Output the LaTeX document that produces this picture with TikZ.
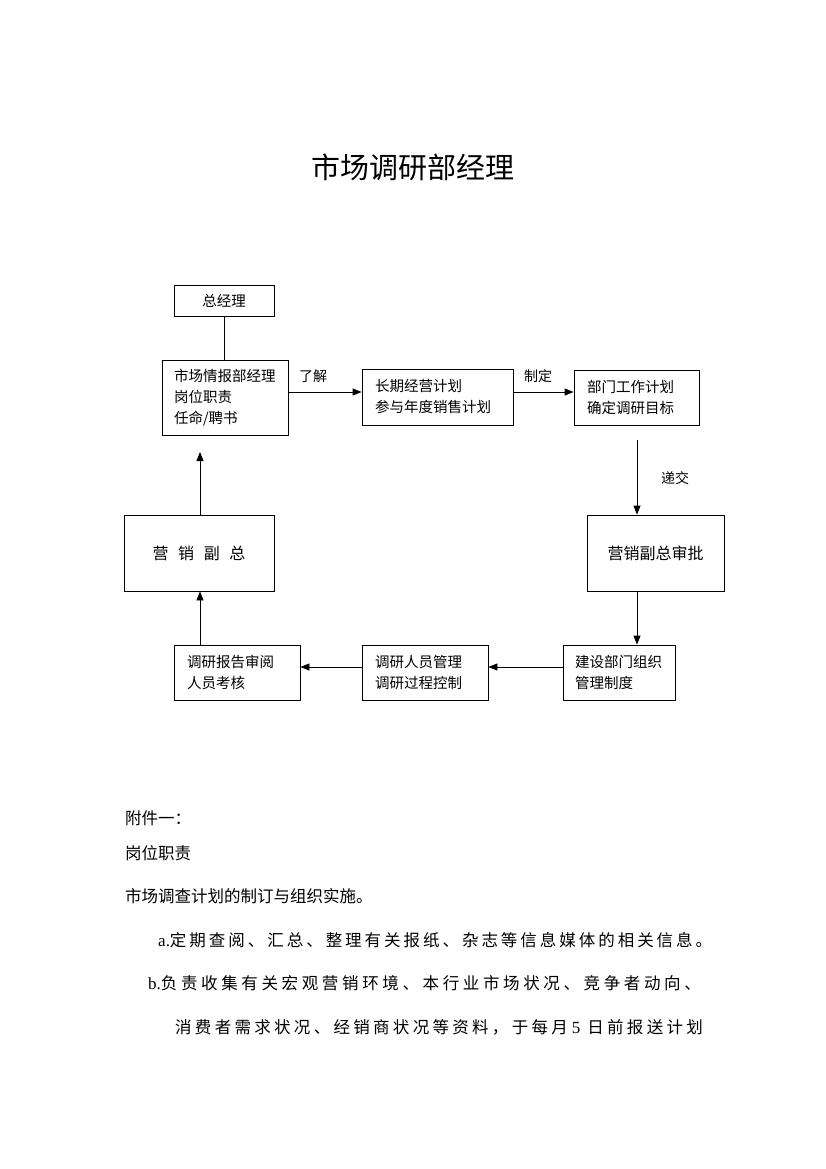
\documentclass[tikz,border=0pt]{standalone}
\usepackage{fontspec}
\setmainfont{Liberation Serif}
\newfontfamily\cjk{Noto Sans CJK SC}
\newfontfamily\cjkw[LetterSpace=18]{Noto Sans CJK SC}
\newfontfamily\cjkb[LetterSpace=22]{Noto Sans CJK SC}
\newfontfamily\cjkc[LetterSpace=20]{Noto Sans CJK SC}
\usetikzlibrary{arrows.meta,calc}
\tikzset{
  box/.style={draw, line width=0.8pt, inner ysep=0pt, align=left, font=\cjk\fontsize{14.5}{21}\selectfont},
  cbox/.style={draw, line width=0.8pt, inner sep=0pt, align=center},
  arr/.style={line width=0.8pt, -{Triangle[length=9pt,width=7pt]}},
  lab/.style={font=\cjk\fontsize{14}{16}\selectfont, inner sep=0pt},
  body/.style={anchor=west, inner sep=0pt, font=\cjk\fontsize{16.5}{18}\selectfont},
}
\begin{document}
\begin{tikzpicture}[x=1pt,y=-1pt]
\useasboundingbox (0,0) rectangle (826,1169);
\fill[white] (0,0) rectangle (826,1169);

\node[inner sep=0pt, font=\cjk\fontsize{29}{32}\selectfont] (title) at (413,167) {市场调研部经理};

\node[cbox, minimum width=100pt, minimum height=31pt, font=\cjk\fontsize{14.5}{17}\selectfont] (zjl) at (224,300.5) {总经理};
\node[box, inner xsep=12pt, text width=102pt, minimum height=75pt] (sc) at (225,397.5) {市场情报部经理\\岗位职责\\任命/聘书};
\node[box, inner xsep=13pt, text width=125pt, minimum height=56pt] (cq) at (437.5,397) {长期经营计划\\参与年度销售计划};
\node[box, inner xsep=13pt, text width=99pt, minimum height=55pt] (bm) at (636.5,397.5) {部门工作计划\\确定调研目标};
\node[cbox, minimum width=137pt, minimum height=76pt, font=\cjk\fontsize{16}{18}\selectfont] (yxsp) at (655.5,553) {营销副总审批};
\node[box, inner xsep=12pt, text width=88pt, minimum height=55pt] (js) at (619,672.5) {建设部门组织\\管理制度};
\node[box, inner xsep=13pt, text width=100pt, minimum height=55pt] (ry) at (425,672.5) {调研人员管理\\调研过程控制};
\node[box, inner xsep=13pt, text width=100pt, minimum height=55pt] (bg) at (237,672.5) {调研报告审阅\\人员考核};
\node[cbox, minimum width=150pt, minimum height=76pt, font=\cjk\fontsize{16}{18}\selectfont] (yxfz) at (199,553) {营\hspace{0.6em}销\hspace{0.6em}副\hspace{0.6em}总};

\coordinate (d0) at (637,440);
\coordinate (u0) at (200,452);

\draw[line width=0.8pt] (zjl.south -| 224,0) -- (sc.north -| 224,0);
\draw[arr] ($(sc.east)+(0,-5.5)$) -- ($(cq.west)+(0,-5)$);
\draw[arr] ($(cq.east)+(0,-5)$) -- ($(bm.west)+(0,-5.5)$);
\draw[arr] (d0) -- (yxsp.north -| d0);
\draw[arr] (yxsp.south -| d0) -- (js.north -| d0);
\draw[arr] ($(js.west)+(0,-5.5)$) -- ($(ry.east)+(0,-5.5)$);
\draw[arr] ($(ry.west)+(0,-5.5)$) -- ($(bg.east)+(0,-5.5)$);
\draw[arr] (bg.north -| u0) -- (yxfz.south -| u0);
\draw[arr] (yxfz.north -| u0) -- (u0);

\node[lab] (l1) at (313,376) {了解};
\node[lab] (l2) at (538,376) {制定};
\node[lab] (l3) at (675,478) {递交};

\node[body] (t1) at (125,818) {附件一：};
\node[body] (t2) at (125,853) {岗位职责};
\node[body] (t3) at (125,896) {市场调查计划的制订与组织实施。};
\node[body] (t4) at (158,940) {{\fontsize{17}{18}\rmfamily a.}{\cjkw 定期查阅、汇总、整理有关报纸、杂志等信息媒体的相关信息。}};
\node[body] (t5) at (148,983) {{\fontsize{17}{18}\rmfamily b.}{\cjkb 负责收集有关宏观营销环境、本行业市场状况、竞争者动向、}};
\node[body] (t6) at (175,1027) {{\cjkc 消费者需求状况、经销商状况等资料，于每月}\hspace{4pt}{\fontsize{17}{18}\rmfamily 5}\hspace{7pt}{\cjkc 日前报送计划}};
\end{tikzpicture}
\end{document}
